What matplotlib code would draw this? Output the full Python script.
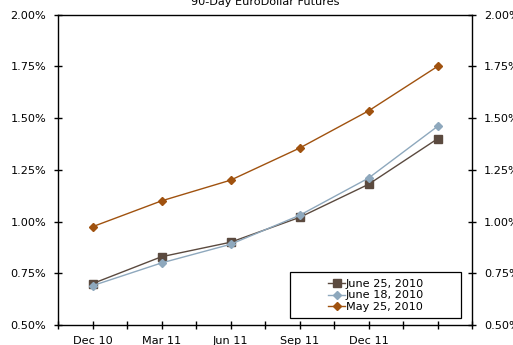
import matplotlib
matplotlib.use("Agg")
import matplotlib.pyplot as plt
from matplotlib.patches import Rectangle
from matplotlib.ticker import FuncFormatter

# Quarterly contract months
contracts = ["Dec 10", "Mar 11", "Jun 11", "Sep 11", "Dec 11", "Mar 12"]
tick_labels = ["Dec 10", "Mar 11", "Jun 11", "Sep 11", "Dec 11"]

# Implied rates (%) on three pricing dates
june25 = [0.70, 0.83, 0.90, 1.02, 1.18, 1.40]
june18 = [0.69, 0.80, 0.89, 1.03, 1.21, 1.46]
may25 = [0.975, 1.10, 1.20, 1.355, 1.535, 1.75]

series_names = ["June 25, 2010", "June 18, 2010", "May 25, 2010"]
title = "90-Day EuroDollar Futures"

plt.rcParams["font.family"] = ["Verdana", "DejaVu Sans"]
fs = 8.1

fig = plt.figure(figsize=(5.13, 3.45), dpi=100)
ax = fig.add_axes([58 / 513, 20 / 345, 414 / 513, 310.3 / 345])

x = list(range(len(contracts)))
h1, = ax.plot(x, june25, color="#5b4a3f", lw=1.0, marker="s", ms=5.2,
              label=series_names[0], zorder=3)
h2, = ax.plot(x, june18, color="#8ea8bd", lw=1.0, marker="D", ms=3.6,
              label=series_names[1], zorder=4)
h3, = ax.plot(x, may25, color="#a0520f", lw=1.0, marker="D", ms=3.8,
              label=series_names[2], zorder=3)

ax.set_xlim(-0.5, len(contracts) - 0.5)
ax.set_ylim(0.5, 2.0)
ax.set_yticks([0.5, 0.75, 1.0, 1.25, 1.5, 1.75, 2.0])
ax.yaxis.set_major_formatter(FuncFormatter(lambda v, p: f"{v:.2f}%"))

# Tick marks every half step; labels on the first five contract months
n_ticks = 2 * len(contracts) + 1
xt = [i * 0.5 - 0.5 for i in range(n_ticks)]
xl = []
for i in range(n_ticks):
    k = (i - 1) // 2
    xl.append(tick_labels[k] if i % 2 == 1 and k < len(tick_labels) else "")
ax.set_xticks(xt)
ax.set_xticklabels(xl)

ax.tick_params(axis="both", which="major", direction="inout", length=6,
               width=1, labelsize=fs, color="black")
ax.tick_params(axis="y", pad=5.5, right=True, labelright=True)
ax.tick_params(axis="x", pad=5)
for s in ax.spines.values():
    s.set_linewidth(1.0)
    s.set_color("black")

# Legend box with centred entries
box = Rectangle((290 / 513, 1 - 318 / 345), 171 / 513, 46 / 345,
                transform=fig.transFigure, fill=True, facecolor="white",
                edgecolor="black", lw=0.9, zorder=5)
fig.patches.append(box)
leg = fig.legend(handles=[h1, h2, h3], loc="center",
                 bbox_to_anchor=(376 / 513, 1 - 295.5 / 345),
                 frameon=False, fontsize=fs, handlelength=1.5,
                 handletextpad=0.05, labelspacing=0.15, borderpad=0)
leg.set_zorder(6)

fig.text(265 / 513, 1 - 5 / 345, title, ha="center", va="baseline",
         fontsize=fs)

fig.savefig("out.png", dpi=100)
